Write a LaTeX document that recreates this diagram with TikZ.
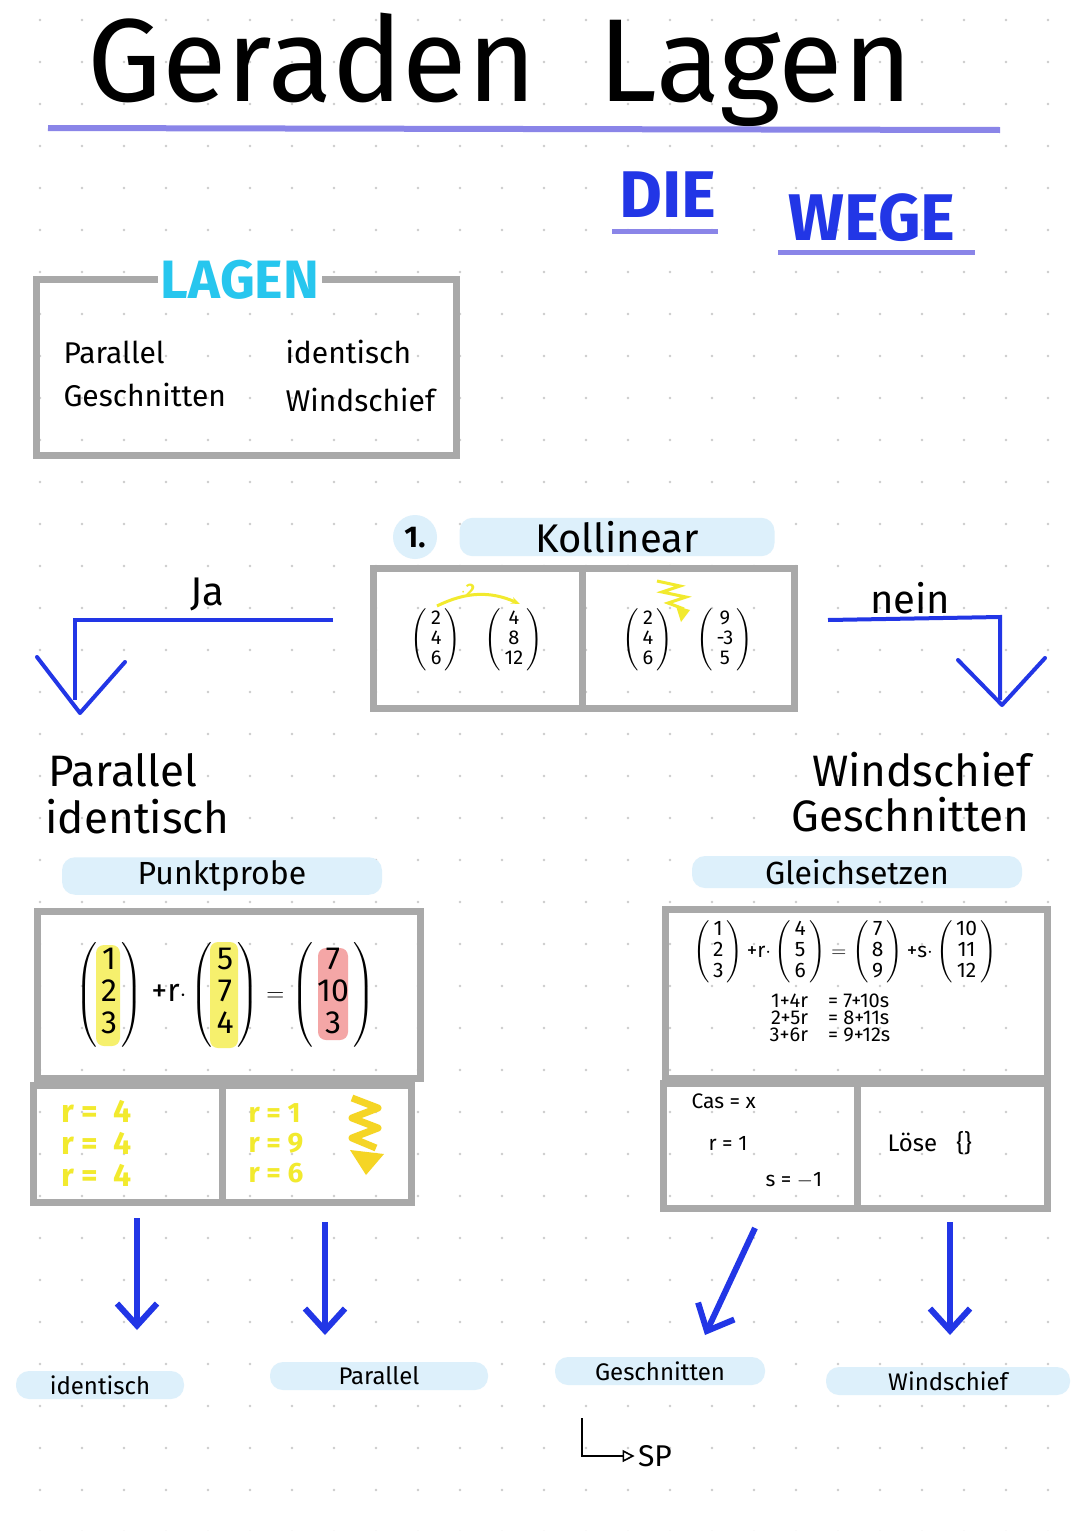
\documentclass[tikz,border=0pt]{standalone}
\usepackage{amsmath}
\usepackage{fontspec}
\setmainfont{Fira Sans}
\usetikzlibrary{arrows.meta,positioning,calc}
\definecolor{hblue}{HTML}{2236E6}
\definecolor{hpurple}{HTML}{8A85E8}
\definecolor{hcyan}{HTML}{27C6EE}
\definecolor{pill}{HTML}{DDF0FB}
\definecolor{hgray}{HTML}{A9A9A9}
\definecolor{hyellow}{HTML}{F2EA2E}
\definecolor{hred}{HTML}{F4A6A6}
\newcommand{\fs}[1]{\fontsize{#1}{#1}\selectfont}
\newcommand{\vc}[3]{\left(\begin{array}{@{\,}c@{\,}}\text{#1}\\\text{#2}\\\text{#3}\end{array}\right)}
\tikzset{
  frame/.style={draw=hgray,line width=7},
  tag/.style={fill=pill,rounded corners=13,minimum height=28,inner xsep=12},
  big/.style={font=\fs{44}},
  mid/.style={font=\fs{30}},
  way/.style={hblue,line width=6,-{Straight Barb[length=22,width=40,line width=6]}}
}
\begin{document}
\begin{tikzpicture}[x=1pt,y=-1pt]
  \fill[white] (0,0) rectangle (1080,1531);
  \useasboundingbox (0,0) rectangle (1080,1531);
  % dot grid
  \foreach \i in {0,...,25}
    \foreach \j in {0,...,36}
      \fill[gray!40] (40+42*\i,20+42*\j) circle (1.3);

  % title
  \node[font=\fs{118}] (title) at (500,70) {Geraden\ \ Lagen};
  \draw[hpurple,line width=6] (48,128) -- (1000,130);
  \node[hblue,font=\bfseries\fs{66}] (die) at (668,195) {DIE};
  \draw[hpurple,line width=5] (612,231) -- (718,231);
  \node[hblue,font=\bfseries\fs{66}] (wege) at (872,218) {WEGE};
  \draw[hpurple,line width=5] (778,252) -- (975,252);

  % Lagen box
  \draw[frame] (36,279) rectangle (456,455);
  \node[fill=white,text=hcyan,font=\bfseries\fs{54}] (lagen) at (240,280) {LAGEN};
  \node[mid,anchor=west] at (60,352) {Parallel};
  \node[mid,anchor=west] at (60,395) {Geschnitten};
  \node[mid,anchor=west] at (282,352) {identisch};
  \node[mid,anchor=west] at (282,400) {Windschief};

  % Kollinear
  \fill[pill] (415,537) circle (22);
  \node[font=\bfseries\fs{30}] (eins) at (415,538) {1.};
  \node[tag,minimum width=315,font=\fs{40}] (koll) at (617,537) {Kollinear};
  \draw[frame] (373,568) rectangle (794,708);
  \draw[frame] (582,568) -- (582,708);
  \node[font=\fs{20}] (ka) at (477,640) {$\vc{2}{4}{6}\quad\vc{4}{8}{12}$};
  \node[font=\fs{20}] (kb) at (688,640) {$\vc{2}{4}{6}\quad\vc{9}{-3}{5}$};
  \draw[hyellow,line width=3,-{Stealth[length=9]}] (437,606) to[bend left=25] (520,604);
  \node[hyellow,font=\bfseries\fs{18}] at (468,590) {$\cdot$2};
  \draw[hyellow,line width=3] (657,581) -- (680,586) -- (662,592) -- (686,597) -- (668,603) -- (684,609);
  \fill[hyellow] (676,606) -- (690,610) -- (681,622) -- cycle;

  % ja / nein
  \node[font=\fs{40}] (ja) at (207,594) {Ja};
  \coordinate (jaA) at (333,620);
  \coordinate (jaB) at (75,620);
  \draw[hblue,line width=4] (jaA) -- (jaB) -- (75,700);
  \draw[hblue,line width=4,line cap=round,line join=round] (37,657) -- (80,713) -- (125,662);
  \node[font=\fs{40}] (nein) at (910,598) {nein};
  \coordinate (neA) at (828,620);
  \coordinate (neB) at (1000,617);
  \draw[hblue,line width=4] (neA) -- (neB) -- (1000,700);
  \draw[hblue,line width=4,line cap=round,line join=round] (958,660) -- (1002,705) -- (1045,658);

  \node[big,anchor=west] (par) at (45,770) {Parallel};
  \node[big,anchor=west] (ide) at (42,817) {identisch};
  \node[big,anchor=east] (win) at (1035,770) {Windschief};
  \node[big,anchor=east] (ges) at (1033,815) {Geschnitten};

  % Punktprobe
  \node[tag,minimum width=320,font=\fs{32}] (pp) at (222,876) {Punktprobe};
  \draw[frame] (37,911) rectangle (420,1078);
  \draw[frame] (33,1085) rectangle (411,1202);
  \draw[frame] (222,1085) -- (222,1202);
  \fill[hyellow!70,rounded corners=8] (96,945) rectangle (120,1046);
  \fill[hyellow!70,rounded corners=8] (210,942) rectangle (238,1048);
  \fill[hred,rounded corners=8] (318,948) rectangle (348,1040);
  \node[font=\fs{32}] (pgl) at (225,995) {$\vc{1}{2}{3}\,\text{+r$\cdot$}\vc{5}{7}{4}=\vc{7}{10}{3}$};
  \node[hyellow,font=\bfseries\fs{32},align=left,anchor=west] at (58,1143) {r =\ \ 4\\[0pt]r =\ \ 4\\[0pt]r =\ \ 4};
  \node[hyellow,font=\bfseries\fs{28},align=left,anchor=west] at (245,1143) {r = 1\\[2pt]r = 9\\[2pt]r = 6};
  \draw[hyellow!80!orange,line width=7,line join=round] (352,1098) -- (378,1108) -- (352,1118) -- (378,1128) -- (352,1138) -- (376,1148);
  \fill[hyellow!80!orange] (350,1150) -- (384,1154) -- (366,1175) -- cycle;

  % Gleichsetzen
  \node[tag,minimum width=330,font=\fs{32}] (gs) at (857,872) {Gleichsetzen};
  \draw[frame] (665,909) rectangle (1047,1078);
  \draw[frame] (663,1083) rectangle (1047,1208);
  \draw[frame] (857,1083) -- (857,1208);
  \node[font=\fs{21}] (ggl) at (845,952) {$\vc{1}{2}{3}\text{+r$\cdot$}\vc{4}{5}{6}=\vc{7}{8}{9}\text{+s$\cdot$}\vc{10}{11}{12}$};
  \node[font=\fs{20},anchor=north] (lgs) at (830,990) {\begin{tabular}{@{}r@{\quad=\ }l@{}}1+4r & 7+10s\\[-3pt]2+5r & 8+11s\\[-3pt]3+6r & 9+12s\end{tabular}};
  \node[font=\fs{21},anchor=west] at (688,1101) {Cas = x};
  \node[font=\fs{21},anchor=west] at (705,1143) {r = 1};
  \node[font=\fs{21},anchor=west] at (762,1180) {s = $-$1};
  \node[font=\fs{24},anchor=west] (loese) at (884,1143) {Löse\ \ \ \{\}};

  % results
  \node[tag,minimum width=168,font=\fs{24}] (rid) at (100,1385) {identisch};
  \node[tag,minimum width=218,font=\fs{24}] (rpa) at (379,1376) {Parallel};
  \node[tag,minimum width=210,font=\fs{24}] (rge) at (660,1371) {Geschnitten};
  \node[tag,minimum width=244,font=\fs{24}] (rwi) at (948,1381) {Windschief};
  \draw[way] (137,1218) -- (137,1330);
  \draw[way] (325,1222) -- (325,1335);
  \draw[way] (755,1228) -- (705,1335);
  \draw[way] (950,1222) -- (950,1335);
  \node[font=\fs{30}] (sp) at (655,1456) {SP};
  \coordinate (spA) at (582,1418);
  \draw[line width=1.6,-{Triangle[open,length=12,width=12]}] (spA) |- (sp.west);
\end{tikzpicture}
\end{document}
